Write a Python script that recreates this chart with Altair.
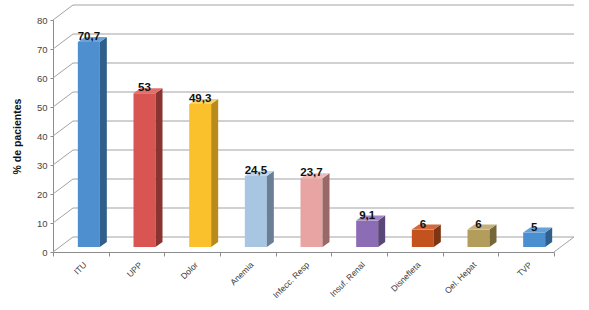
import altair as alt
import pandas as pd

categories = ["ITU", "UPP", "Dolor", "Anemia", "Infecc. Resp", "Insuf. Renal",
              "Disnefleta", "Oel. Hepat", "TVP"]
values = [70.7, 53, 49.3, 24.5, 23.7, 9.1, 6, 6, 5]
value_labels = ["70,7", "53", "49,3", "24,5", "23,7", "9,1", "6", "6", "5"]
front_colors = ["#4e8fcf", "#d85551", "#fbc12d", "#a8c5e2", "#e8a4a2",
                "#8c6cb5", "#c4521f", "#b39d5c", "#4a8fd0"]
side_colors = ["#2f5f8a", "#8a3431", "#b88b1c", "#6a7f96", "#9a6867",
               "#5a4679", "#7e3513", "#766739", "#2f5f8a"]
top_colors = ["#6aa3da", "#e0706c", "#fcd061", "#bdd4ea", "#efbab8",
              "#a186c4", "#d36a3c", "#c4b07a", "#66a2da"]
y_ticks = [0, 10, 20, 30, 40, 50, 60, 70, 80]

W, H = 501, 232
N = len(categories)
PX = W / N          # pixels per x unit
PY = H / 80         # pixels per y unit
DX = 7 / PX         # bar depth (x) in data units
DY = 5 / PY         # bar depth (y) in data units

xs = alt.Scale(domain=[0, N], nice=False, zero=False)
ys = alt.Scale(domain=[0, 80], nice=False)

XAX = alt.Axis(values=list(range(N + 1)), labels=False, title=None, grid=False,
               domainColor="#8c8c8c", tickColor="#8c8c8c", tickSize=4)
YAX = alt.Axis(values=y_ticks, title="% de pacientes", grid=False, labelOverlap=False,
               domainColor="#8c8c8c", tickColor="#8c8c8c", tickSize=3,
               labelFont="Liberation Sans", labelFontSize=9.5, labelColor="#444444",
               labelPadding=3, titleFont="Liberation Sans", titleFontSize=10.5,
               titleFontWeight="bold", titleColor="#111111", titlePadding=14)


def X(f):
    return alt.X(f, scale=xs, axis=XAX)


def Y(f):
    return alt.Y(f, scale=ys, axis=YAX)


bars = pd.DataFrame({
    "cat": categories, "v": values, "lab": value_labels,
    "c": [i + 0.5 for i in range(N)],
    "front": front_colors, "side": side_colors, "top": top_colors,
    "zero": [0] * N,
})

side_rows, top_rows = [], []
for i, (cat, v) in enumerate(zip(categories, values)):
    c = i + 0.5
    side_rows += [dict(cat=cat, x=c, y=v, y2=0, col=side_colors[i]),
                  dict(cat=cat, x=c + DX, y=v + DY, y2=DY, col=side_colors[i])]
    top_rows += [dict(cat=cat, x=c, x2=c, y=v, col=top_colors[i]),
                 dict(cat=cat, x=c + DX, x2=c + DX, y=v + DY, col=top_colors[i])]
side_df = pd.DataFrame(side_rows)
top_df = pd.DataFrame(top_rows)

grid_df = pd.DataFrame({"v": y_ticks, "x0": [0] * len(y_ticks), "x1": [N] * len(y_ticks)})
GRID = "#a3a3a3"

back_grid = alt.Chart(grid_df).mark_rule(
    color=GRID, strokeWidth=1.2, xOffset=20, x2Offset=20, yOffset=-15, y2Offset=-15
).encode(x=X("x0:Q"), x2="x1:Q", y=Y("v:Q"), y2="v:Q")

left_wall = alt.Chart(grid_df).mark_rule(
    color=GRID, strokeWidth=1, x2Offset=20, y2Offset=-15
).encode(x=X("x0:Q"), x2="x0:Q", y=Y("v:Q"), y2="v:Q")

floor_right = alt.Chart(grid_df[grid_df.v == 0]).mark_rule(
    color=GRID, strokeWidth=1, x2Offset=20, y2Offset=-15
).encode(x=X("x1:Q"), x2="x1:Q", y=Y("v:Q"), y2="v:Q")

front = alt.Chart(bars).mark_bar(
    xOffset=-3, x2Offset=19, yOffset=-5, y2Offset=-5
).encode(x=X("c:Q"), x2="c:Q", y=Y("v:Q"), y2="zero:Q",
         color=alt.Color("front:N", scale=None))

side = alt.Chart(side_df).mark_area(
    xOffset=19, yOffset=-5, y2Offset=-5, orient="vertical", interpolate="linear"
).encode(x=X("x:Q"), y=Y("y:Q"), y2="y2:Q",
         detail="cat:N", color=alt.Color("col:N", scale=None))

top = alt.Chart(top_df).mark_area(
    xOffset=-3, x2Offset=19, yOffset=-5, orient="horizontal", interpolate="linear"
).encode(y=Y("y:Q"), x=X("x:Q"), x2="x2:Q",
         detail="cat:N", color=alt.Color("col:N", scale=None))

val_text = alt.Chart(bars).mark_text(
    font="Liberation Sans", fontSize=11.5, fontWeight="bold", color="#111111",
    dx=8, dy=-5, baseline="bottom", align="center"
).encode(x=X("c:Q"), y=Y("v:Q"), text="lab:N")

cat_text = alt.Chart(bars).mark_text(
    font="Liberation Sans", fontSize=8.5, color="#3a3a3a", angle=315,
    align="right", baseline="middle", dx=-5, dy=11
).encode(x=X("c:Q"), y=Y("zero:Q"), text="cat:N")

chart = alt.layer(
    back_grid, left_wall, floor_right, front, side, top, val_text, cat_text
).properties(
    width=W, height=H,
    padding={"left": 53, "top": 20, "right": 35, "bottom": 58},
    autosize=alt.AutoSizeParams(type="none"),
    background="white",
).configure_view(stroke=None)

chart.save("out.html", embed_options={"renderer": "svg", "actions": False})
